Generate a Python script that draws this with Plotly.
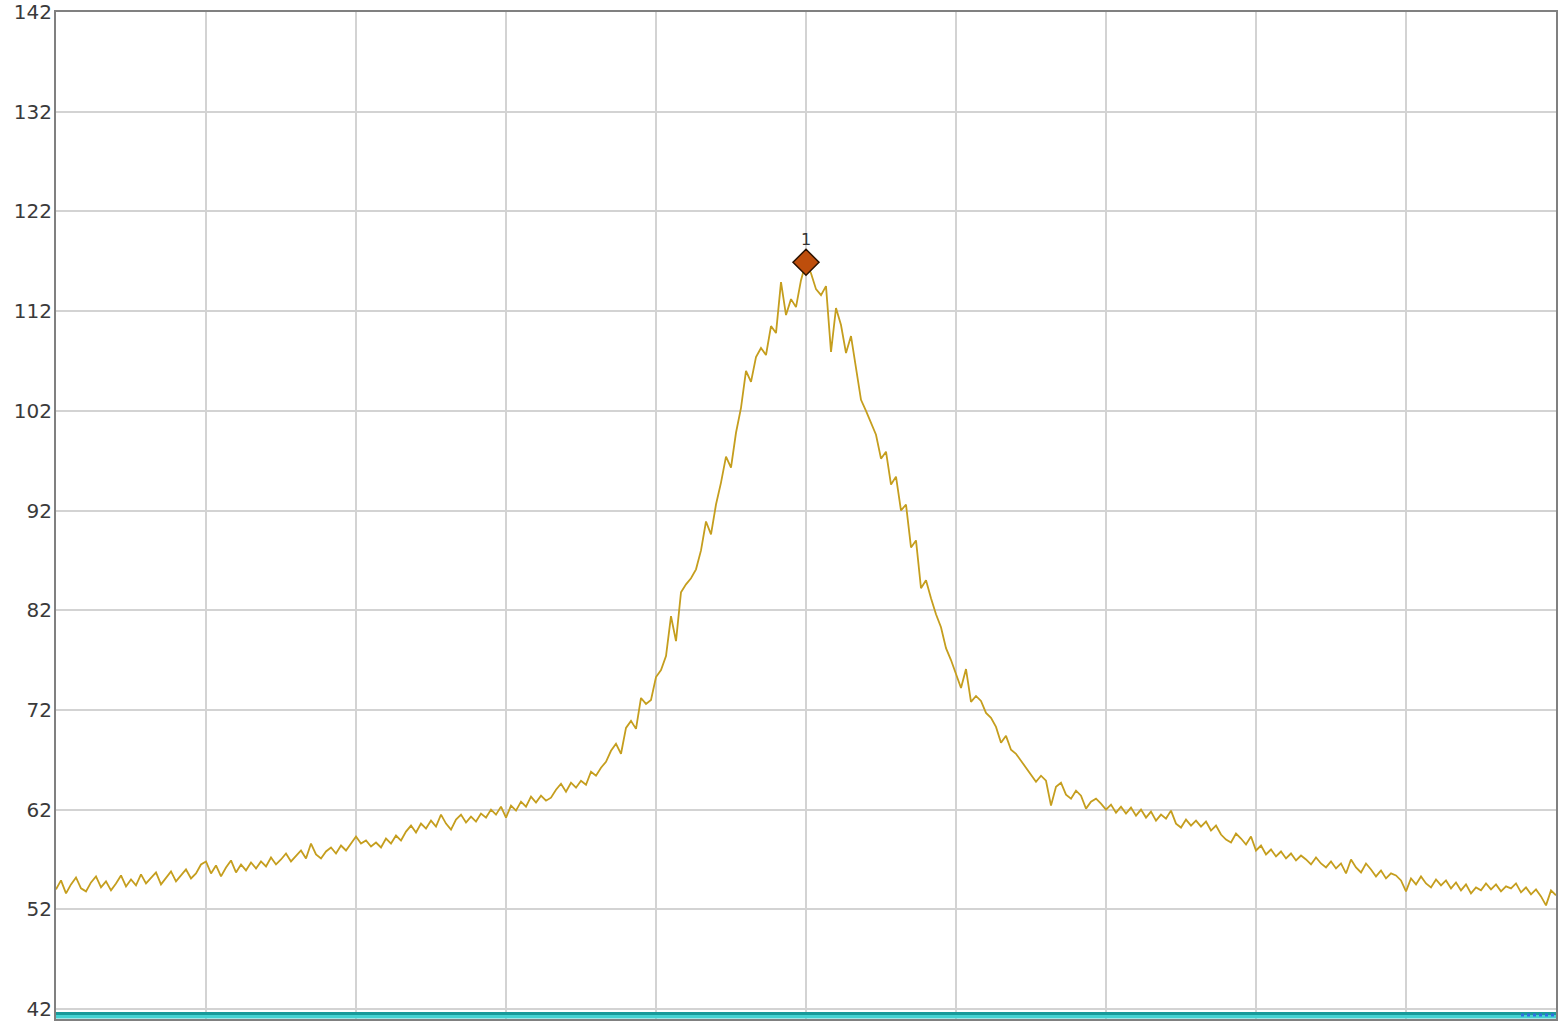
import plotly.graph_objects as go

# Trace level (dB), 30 points per horizontal division
level = [
    # division 1
    54.0, 54.9, 53.6, 54.5, 55.2, 54.1, 53.8, 54.7, 55.3, 54.2,
    54.8, 53.9, 54.6, 55.4, 54.3, 55.0, 54.4, 55.5, 54.6, 55.1,
    55.7, 54.5, 55.2, 55.8, 54.8, 55.4, 56.0, 55.1, 55.6, 56.5,
    # division 2
    56.8, 55.6, 56.4, 55.3, 56.2, 56.9, 55.7, 56.5, 55.9, 56.7,
    56.1, 56.8, 56.3, 57.2, 56.5, 57.0, 57.6, 56.8, 57.4, 57.9,
    57.1, 58.6, 57.5, 57.1, 57.8, 58.2, 57.6, 58.4, 57.9, 58.6,
    # division 3
    59.3, 58.6, 58.9, 58.3, 58.7, 58.2, 59.1, 58.6, 59.4, 58.9,
    59.8, 60.4, 59.7, 60.6, 60.1, 60.9, 60.3, 61.5, 60.6, 60.0,
    61.0, 61.5, 60.7, 61.3, 60.8, 61.6, 61.2, 62.0, 61.5, 62.3,
    # division 4
    61.2, 62.4, 61.9, 62.8, 62.3, 63.3, 62.7, 63.4, 62.9, 63.2,
    64.0, 64.6, 63.8, 64.7, 64.2, 64.9, 64.5, 65.8, 65.4, 66.2,
    66.8, 67.9, 68.6, 67.6, 70.2, 70.9, 70.1, 73.2, 72.6, 73.0,
    # division 5
    75.3, 76.0, 77.4, 81.4, 78.9, 83.8, 84.6, 85.2, 86.1, 88.0,
    90.9, 89.6, 92.6, 94.8, 97.4, 96.3, 99.8, 102.3, 106.0, 104.9,
    107.4, 108.3, 107.6, 110.5, 109.8, 114.9, 111.6, 113.2, 112.4, 115.1,
    # division 6
    116.9, 115.8, 114.2, 113.6, 114.5, 107.9, 112.3, 110.6, 107.8, 109.5,
    106.3, 103.1, 102.0, 100.8, 99.6, 97.2, 97.9, 94.6, 95.4, 92.0,
    92.6, 88.3, 89.0, 84.2, 85.0, 83.2, 81.6, 80.3, 78.2, 77.0,
    # division 7
    75.5, 74.2, 76.1, 72.8, 73.4, 72.9, 71.7, 71.2, 70.3, 68.7,
    69.4, 68.0, 67.6, 66.9, 66.1, 65.5, 64.8, 65.4, 64.9, 62.4,
    64.3, 64.7, 63.5, 63.1, 63.9, 63.4, 62.1, 62.8, 63.1, 62.6,
    # division 8
    62.0, 62.5, 61.7, 62.3, 61.6, 62.2, 61.4, 62.0, 61.2, 61.8,
    60.9, 61.5, 61.1, 61.9, 60.6, 60.2, 61.0, 60.4, 60.9, 60.3,
    60.8, 59.9, 60.4, 59.5, 59.0, 58.7, 59.6, 59.1, 58.5, 59.3,
    # division 9
    57.9, 58.4, 57.5, 58.0, 57.3, 57.8, 57.1, 57.6, 56.9, 57.4,
    57.0, 56.5, 57.2, 56.6, 56.2, 56.8, 56.1, 56.6, 55.6, 57.0,
    56.2, 55.7, 56.6, 56.0, 55.3, 55.9, 55.1, 55.6, 55.4, 54.9,
    # division 10
    53.8, 55.1, 54.5, 55.3, 54.6, 54.2, 55.0, 54.4, 54.9, 54.1,
    54.7, 53.9, 54.5, 53.6, 54.2, 53.9, 54.6, 54.0, 54.5, 53.8,
    54.3, 54.1, 54.6, 53.7, 54.2, 53.5, 54.0, 53.3, 52.4, 53.9,
    53.4,
]

points = list(range(len(level)))
n_div = 10
span = points[-1]

# Second trace, off-scale just below the reference bottom
trace2_upper = [41.55] * len(points)
trace2_lower = [41.22] * len(points)
indicator_x = [span - 7, span]
indicator_y = [41.4, 41.4]

# Y tick labels
y_ticks = [42, 52, 62, 72, 82, 92, 102, 112, 122, 132, 142]

marker_label = "1"
peak_idx = max(range(len(level)), key=lambda i: level[i])

fig = go.Figure()

fig.add_trace(go.Scatter(
    x=points, y=trace2_lower, mode="lines",
    line=dict(color="#45D2D2", width=3.5), hoverinfo="skip", showlegend=False))
fig.add_trace(go.Scatter(
    x=points, y=trace2_upper, mode="lines",
    line=dict(color="#199A9A", width=3), hoverinfo="skip", showlegend=False))
fig.add_trace(go.Scatter(
    x=indicator_x, y=indicator_y, mode="lines",
    line=dict(color="#2F6FE0", width=3, dash="dot"), hoverinfo="skip",
    showlegend=False))

fig.add_trace(go.Scatter(
    x=points, y=level, mode="lines",
    line=dict(color="#C59E1E", width=1.8), showlegend=False))

fig.add_trace(go.Scatter(
    x=[points[peak_idx]], y=[level[peak_idx]], mode="markers+text",
    marker=dict(symbol="diamond", size=20, color="#BE4E0C",
                line=dict(color="#2A1200", width=1.5)),
    text=[marker_label], textposition="top center",
    textfont=dict(family="DejaVu Sans", size=16, color="#333333"),
    showlegend=False))

fig.update_layout(
    width=1560, height=1022,
    margin=dict(l=56, r=4, t=12, b=3),
    paper_bgcolor="white", plot_bgcolor="white",
    font=dict(family="DejaVu Sans", size=20, color="#3a3a3a"),
)

fig.update_xaxes(
    range=[0, span], tick0=0, dtick=span / n_div, showticklabels=False,
    showgrid=True, gridcolor="#D3D3D3", gridwidth=1.5,
    zeroline=False, showline=True, linecolor="#808080", linewidth=2,
    mirror=True, ticks="", automargin=False)

fig.update_yaxes(
    range=[41.0, 142], tickvals=y_ticks, ticktext=[str(v) for v in y_ticks],
    showgrid=True, gridcolor="#D3D3D3", gridwidth=1.5,
    zeroline=False, showline=True, linecolor="#808080", linewidth=2,
    mirror=True, ticks="", ticklabelstandoff=-2, automargin=False,
    ticklabeloverflow="allow")

fig.write_html("out.html", config={"displayModeBar": False},
               post_script="document.body.style.margin='0';")
